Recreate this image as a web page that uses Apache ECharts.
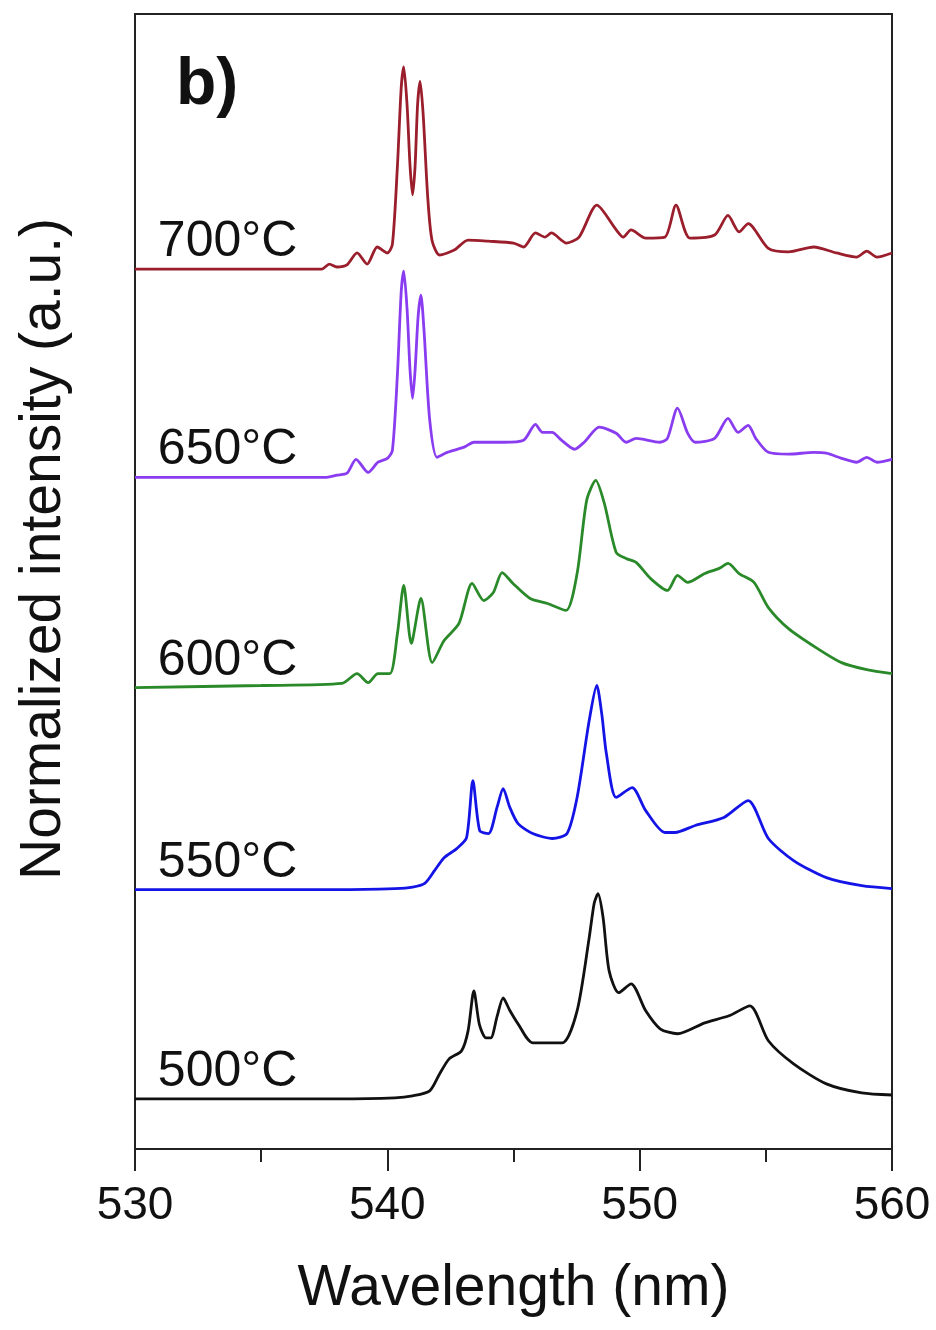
<!DOCTYPE html>
<html>
<head>
<meta charset="utf-8">
<script src="https://cdn.jsdelivr.net/npm/echarts@6/dist/echarts.min.js"></script>
<style>
html,body{margin:0;padding:0;background:#fff;}
#chart{width:936px;height:1330px;}
</style>
</head>
<body>
<div id="chart"></div>
<script>
// ---- Data ----
const seriesNames = ['500°C', '550°C', '600°C', '650°C', '700°C'];
const offsets = [0, 1.015, 1.995, 3.015, 4.025];
const xTicks = [530, 540, 550, 560];

const wl500 = [530, 538, 540.3, 541.0, 541.68, 542.07, 542.45, 542.94, 543.2, 543.43, 543.65, 543.91, 544.1, 544.35, 544.59, 544.85, 545.18, 545.76, 546.93, 547.52, 548.0, 548.2, 548.35, 548.55, 548.79, 549.17, 549.66, 550.24, 550.81, 551.5, 552.58, 553.54, 554.37, 555.1, 556.1, 557.4, 558.8, 560];
const int500 = [0, 0, 0.005, 0.015, 0.039, 0.121, 0.194, 0.233, 0.33, 0.524, 0.36, 0.296, 0.296, 0.4, 0.490, 0.43, 0.364, 0.272, 0.272, 0.427, 0.782, 0.95, 0.995, 0.88, 0.621, 0.515, 0.558, 0.427, 0.340, 0.316, 0.369, 0.403, 0.451, 0.282, 0.170, 0.073, 0.029, 0.019];

const wl550 = [530, 538, 540.3, 541.0, 541.48, 541.87, 542.25, 542.75, 543.14, 543.39, 543.66, 544.01, 544.35, 544.59, 544.85, 545.18, 545.76, 546.54, 547.12, 547.52, 548.0, 548.3, 548.5, 548.68, 549.07, 549.7, 550.24, 551.0, 551.4, 552.2, 553.34, 554.3, 555.1, 556.1, 557.4, 558.8, 560];
const int550 = [0, 0, 0.005, 0.012, 0.03, 0.092, 0.155, 0.199, 0.252, 0.529, 0.286, 0.272, 0.4, 0.490, 0.40, 0.320, 0.272, 0.248, 0.272, 0.447, 0.820, 0.990, 0.85, 0.660, 0.447, 0.495, 0.383, 0.277, 0.277, 0.311, 0.350, 0.432, 0.248, 0.141, 0.058, 0.019, 0.005];

const wl600 = [530, 535, 538.2, 538.8, 539.24, 539.63, 540.1, 540.4, 540.65, 540.95, 541.33, 541.78, 542.25, 542.84, 543.36, 543.82, 544.2, 544.55, 544.98, 545.66, 546.35, 547.08, 547.52, 547.9, 548.26, 548.6, 549.07, 549.46, 549.86, 550.43, 551.1, 551.5, 551.9, 552.58, 553.15, 553.5, 553.94, 554.53, 555.1, 555.9, 557.05, 558.0, 559.0, 560];
const int600 = [0, 0.01, 0.02, 0.068, 0.024, 0.068, 0.068, 0.262, 0.495, 0.214, 0.432, 0.121, 0.228, 0.311, 0.505, 0.422, 0.461, 0.558, 0.505, 0.432, 0.408, 0.374, 0.553, 0.908, 1.005, 0.893, 0.655, 0.626, 0.607, 0.529, 0.471, 0.544, 0.510, 0.553, 0.578, 0.602, 0.553, 0.510, 0.388, 0.286, 0.189, 0.121, 0.087, 0.068];

const wl650 = [530, 537.6, 538.0, 538.4, 538.76, 539.24, 539.63, 540.0, 540.2, 540.4, 540.55, 540.65, 540.78, 540.9, 541.0, 541.1, 541.22, 541.33, 541.45, 541.68, 541.97, 542.37, 543.04, 543.43, 544.6, 545.4, 545.87, 546.15, 546.53, 546.9, 547.42, 547.8, 548.4, 549.07, 549.46, 549.86, 550.8, 551.1, 551.5, 551.9, 552.2, 552.97, 553.5, 553.9, 554.3, 554.6, 555.1, 555.9, 556.9, 557.4, 558.0, 558.6, 559.0, 559.4, 560];
const int650 = [0, 0, 0.01, 0.02, 0.087, 0.024, 0.073, 0.092, 0.13, 0.5, 0.9, 1.0, 0.82, 0.52, 0.383, 0.52, 0.78, 0.883, 0.72, 0.277, 0.097, 0.121, 0.146, 0.17, 0.17, 0.18, 0.257, 0.218, 0.218, 0.18, 0.136, 0.17, 0.243, 0.214, 0.17, 0.189, 0.17, 0.189, 0.335, 0.214, 0.17, 0.189, 0.286, 0.218, 0.252, 0.189, 0.121, 0.112, 0.121, 0.117, 0.092, 0.073, 0.097, 0.073, 0.087];

const wl700 = [530, 537.4, 537.7, 538.0, 538.4, 538.8, 539.2, 539.6, 540.0, 540.2, 540.4, 540.55, 540.65, 540.78, 540.9, 541.0, 541.1, 541.2, 541.3, 541.42, 541.6, 541.77, 542.07, 542.65, 543.2, 544.0, 545.0, 545.4, 545.87, 546.25, 546.5, 547.1, 547.6, 548.3, 549.07, 549.35, 549.66, 550.24, 551.0, 551.44, 551.99, 552.97, 553.5, 553.94, 554.3, 555.1, 555.9, 556.9, 557.8, 558.6, 559.0, 559.4, 560];
const int700 = [0, 0, 0.024, 0.01, 0.02, 0.078, 0.024, 0.107, 0.078, 0.12, 0.5, 0.88, 0.98, 0.8, 0.5, 0.36, 0.5, 0.8, 0.91, 0.75, 0.35, 0.14, 0.068, 0.092, 0.14, 0.135, 0.126, 0.107, 0.175, 0.155, 0.175, 0.126, 0.155, 0.31, 0.19, 0.155, 0.19, 0.15, 0.155, 0.31, 0.15, 0.165, 0.26, 0.18, 0.22, 0.10, 0.083, 0.107, 0.078, 0.058, 0.087, 0.058, 0.078];

const wavelengths = [wl500, wl550, wl600, wl650, wl700];
const intensities = [int500, int550, int600, int650, int700];
const colors = ['#111111', '#1414e6', '#2a8a2a', '#8a3cf0', '#9a1e2c'];
const labelX = 533.67;
const labelDy = 0.13;

const FONT = '"Liberation Sans", Arial, Helvetica, sans-serif';

const series = seriesNames.map((name, i) => ({
  name: name,
  type: 'line',
  smooth: 0.25,
  symbol: 'none',
  data: wavelengths[i].map((w, j) => [w, intensities[i][j] + offsets[i]]),
  lineStyle: { color: colors[i], width: 2.8 },
  itemStyle: { color: colors[i] },
  z: 5,
  markPoint: {
    symbol: 'circle',
    symbolSize: 0,
    silent: true,
    data: [{ coord: [labelX, offsets[i] + labelDy] }],
    label: {
      show: true, position: 'inside', formatter: name,
      color: '#111', fontSize: 50, fontFamily: FONT
    }
  }
}));

const chart = echarts.init(document.getElementById('chart'), null, { renderer: 'canvas' });
chart.setOption({
  backgroundColor: '#fff',
  animation: false,
  title: {
    text: 'b)', left: 171, top: 48,
    textStyle: { fontSize: 66, fontWeight: 'bold', fontFamily: FONT, color: '#111' }
  },
  grid: {
    left: 135, right: 44, top: 14, bottom: 181,
    show: true, borderColor: '#222', borderWidth: 2, backgroundColor: 'transparent'
  },
  xAxis: {
    type: 'value', min: 530, max: 560, interval: 10,
    name: 'Wavelength (nm)', nameLocation: 'middle', nameGap: 112,
    nameTextStyle: { fontSize: 57, fontFamily: FONT, color: '#111' },
    axisLine: { show: true, onZero: false, lineStyle: { color: '#222', width: 2 } },
    axisTick: { show: true, inside: false, length: 22, lineStyle: { color: '#222', width: 2 } },
    minorTick: { show: true, splitNumber: 2, length: 13, lineStyle: { color: '#222', width: 2 } },
    axisLabel: {
      fontSize: 46, fontFamily: FONT, color: '#111', margin: 34,
      formatter: v => (xTicks.indexOf(v) >= 0 ? String(v) : '')
    },
    splitLine: { show: false }
  },
  yAxis: {
    type: 'value', min: -0.243, max: 5.262,
    axisLine: { show: true, onZero: false, lineStyle: { color: '#222', width: 2 } },
    axisTick: { show: false }, axisLabel: { show: false }, splitLine: { show: false }
  },
  graphic: [{
    type: 'text', x: 44, y: 549, rotation: Math.PI / 2,
    style: {
      text: 'Normalized intensity (a.u.)', fontSize: 57, fontFamily: FONT,
      fill: '#111', align: 'center', verticalAlign: 'middle'
    }
  }],
  series: series
});
</script>
</body>
</html>
